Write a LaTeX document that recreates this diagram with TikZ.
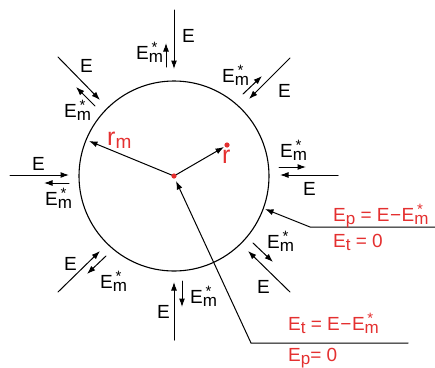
\documentclass[tikz,border=0pt]{standalone}
\usepackage{fontspec}
\setmainfont{Liberation Sans}
\usetikzlibrary{arrows.meta}
\definecolor{rd}{RGB}{228,48,48}
\newcommand{\sbm}[1]{\raisebox{-0.17em}{\fontsize{17}{17}\selectfont #1}}
\newcommand{\Em}{E\ooalign{\sbm{m}\cr\hidewidth\raisebox{0.32em}{\fontsize{15}{15}\selectfont *}\hidewidth\kern3pt\cr}}
\tikzset{
  ar/.style={-{Latex[length=8.5pt,width=6pt]}, line width=1pt, line cap=round},
  lab/.style={font=\fontsize{19}{19}\selectfont, inner sep=0pt, anchor=base west},
  rlab/.style={lab, text=rd}
}
\begin{document}
\begin{tikzpicture}[x=1pt,y=-1pt]
\useasboundingbox (0,0) rectangle (435,367);
\coordinate (O) at (174,176);
\draw[line width=1.1pt] (O) circle[radius=95pt];
% radius vectors
\coordinate (R) at (227,145);
\coordinate (Rm) at (89,141);
\draw[ar] (O) -- (224,147) coordinate (Rtip);
\draw[ar] (O) -- (Rm);
\fill[rd] (O) circle[radius=2.6pt];
\fill[rd] (R) circle[radius=2.6pt];
\node[lab, text=rd, font=\fontsize{25}{25}\selectfont] (rlab) at (222,163) {r};
\node[lab, text=rd, font=\fontsize{25}{25}\selectfont] (rmlab) at (107,145) {r\raisebox{-0.12em}{\fontsize{19}{19}\selectfont m}};
% top
\coordinate (t1) at (174,10); \coordinate (t2) at (174,69);
\coordinate (t3) at (166,67); \coordinate (t4) at (166,43);
\draw[ar] (t1) -- (t2); \draw[ar] (t3) -- (t4);
\node[lab] (tE) at (182,42) {E};
\node[lab] (tEm) at (136,59) {\Em};
% top-left
\coordinate (tl1) at (58,57); \coordinate (tl2) at (100,100);
\coordinate (tl3) at (95,106); \coordinate (tl4) at (76,87);
\draw[ar] (tl1) -- (tl2); \draw[ar] (tl3) -- (tl4);
\node[lab] (tlE) at (80,72) {E};
\node[lab] (tlEm) at (64,117) {\Em};
% left
\coordinate (l1) at (10,175); \coordinate (l2) at (69,175);
\coordinate (l3) at (69,183); \coordinate (l4) at (44,183);
\draw[ar] (l1) -- (l2); \draw[ar] (l3) -- (l4);
\node[lab] (lE) at (32,170) {E};
\node[lab] (lEm) at (45,205) {\Em};
% top-right
\coordinate (tr1) at (290,58); \coordinate (tr2) at (249,99);
\coordinate (tr3) at (243,94); \coordinate (tr4) at (262,76);
\draw[ar] (tr1) -- (tr2); \draw[ar] (tr3) -- (tr4);
\node[lab] (trE) at (278,97) {E};
\node[lab] (trEm) at (222,82) {\Em};
% right
\coordinate (r1) at (338,175); \coordinate (r2) at (280,175);
\coordinate (r3) at (279,167); \coordinate (r4) at (306,167);
\draw[ar] (r1) -- (r2); \draw[ar] (r3) -- (r4);
\node[lab] (rE) at (303,195) {E};
\node[lab] (rEm) at (280,157) {\Em};
% bottom-right
\coordinate (br1) at (290,292); \coordinate (br2) at (248,251);
\coordinate (br3) at (253,243); \coordinate (br4) at (273,262);
\draw[ar] (br1) -- (br2); \draw[ar] (br3) -- (br4);
\node[lab] (brE) at (257,293) {E};
\node[lab] (brEm) at (267,248) {\Em};
% bottom-left
\coordinate (bl1) at (58,292); \coordinate (bl2) at (100,251);
\coordinate (bl3) at (106,256); \coordinate (bl4) at (87,274);
\draw[ar] (bl1) -- (bl2); \draw[ar] (bl3) -- (bl4);
\node[lab] (blE) at (64,270) {E};
\node[lab] (blEm) at (100,288) {\Em};
% bottom
\coordinate (b1) at (174,340); \coordinate (b2) at (174,282);
\coordinate (b3) at (182,281); \coordinate (b4) at (182,307);
\draw[ar] (b1) -- (b2); \draw[ar] (b3) -- (b4);
\node[lab] (bE) at (157,318) {E};
\node[lab] (bEm) at (190,303) {\Em};
% callout 1
\coordinate (c1e) at (435,227); \coordinate (c1k) at (310,227); \coordinate (c1t) at (265,209);
\draw[ar] (c1e) -- (c1k) -- (c1t);
\node[rlab] (c1a) at (333,221) {E\sbm{p} = E\kern0.5pt−\kern0.5pt\Em};
\node[rlab] (c1b) at (333,247) {E\sbm{t} = 0};
% callout 2
\coordinate (c2e) at (408,343); \coordinate (c2k) at (251,343); \coordinate (c2t) at (176,181);
\draw[ar] (c2e) -- (c2k) -- (c2t);
\node[rlab] (c2a) at (288,330) {E\sbm{t} = E\kern0.5pt−\kern0.5pt\Em};
\node[rlab] (c2b) at (288,361) {E\sbm{p}= 0};
\end{tikzpicture}
\end{document}
